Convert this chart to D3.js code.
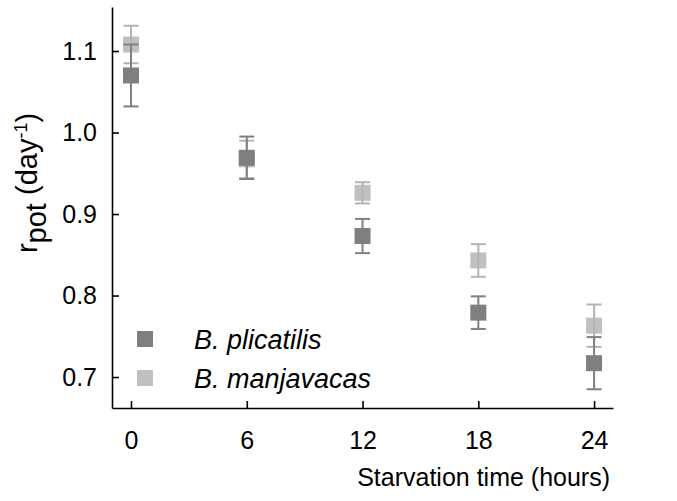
<!DOCTYPE html>
<html>
<head>
<meta charset="utf-8">
<script src="https://cdn.jsdelivr.net/npm/d3@7"></script>
<style>
  html, body { margin: 0; padding: 0; background: #fff; }
  svg { display: block; font-family: "Liberation Sans", Arial, sans-serif; }
</style>
</head>
<body>
<svg id="chart" width="677" height="501"></svg>
<script>
// ---- data ----
const hours = [0, 6, 12, 18, 24];
const xTickLabels = ["0", "6", "12", "18", "24"];
const yTicks = [0.7, 0.8, 0.9, 1.0, 1.1];
const seriesNames = ["B. plicatilis", "B. manjavacas"];
const plicatilisMean = [1.070, 0.969, 0.873, 0.779, 0.717];
const plicatilisErr  = [0.038, 0.026, 0.021, 0.020, 0.032];
const manjavacasMean = [1.108, 0.967, 0.926, 0.843, 0.763];
const manjavacasErr  = [0.023, 0.023, 0.013, 0.020, 0.026];
const seriesColors = ["#7f7f7f", "#c0c0c0"];
const barColors = ["#808080", "#b4b4b4"];

const svg = d3.select("#chart");
const x = d3.scaleLinear().domain([-0.985, 24.98]).range([112, 613]);
const y = d3.scaleLinear().domain([0.662, 1.154]).range([408, 7]);

// axes
const xAxis = d3.axisBottom(x).tickValues(hours)
  .tickFormat((d, i) => xTickLabels[i]).tickSize(-7).tickSizeOuter(0).tickPadding(23);
const yAxis = d3.axisLeft(y).tickValues(yTicks)
  .tickFormat(d3.format(".1f")).tickSize(-7).tickSizeOuter(0).tickPadding(15);

const gx = svg.append("g").attr("transform", "translate(0,408)").call(xAxis);
const gy = svg.append("g").attr("transform", "translate(112,0)").call(yAxis);
[gx, gy].forEach(g => {
  g.selectAll("path.domain").attr("stroke", "#000").attr("stroke-width", 1.6);
  g.selectAll(".tick line").attr("stroke", "#000").attr("stroke-width", 1.6);
  g.selectAll(".tick text").attr("font-size", 25).attr("fill", "#000")
    .attr("font-family", "'Liberation Sans', Arial, sans-serif");
});

// series (light drawn first, dark on top)
const series = [
  {name: seriesNames[1], mean: manjavacasMean, err: manjavacasErr, color: seriesColors[1], bar: barColors[1]},
  {name: seriesNames[0], mean: plicatilisMean, err: plicatilisErr, color: seriesColors[0], bar: barColors[0]}
];
const cap = 7.5, half = 8;
series.forEach(s => {
  const g = svg.append("g");
  hours.forEach((h, i) => {
    const cx = x(h), lo = y(s.mean[i] - s.err[i]), hi = y(s.mean[i] + s.err[i]);
    g.append("rect").attr("x", cx - half).attr("y", y(s.mean[i]) - half)
      .attr("width", 2 * half).attr("height", 2 * half).attr("fill", s.color);
    g.append("line").attr("x1", cx).attr("x2", cx).attr("y1", lo).attr("y2", hi)
      .attr("stroke", s.bar).attr("stroke-width", 2);
    [lo, hi].forEach(yy => g.append("line").attr("x1", cx - cap).attr("x2", cx + cap)
      .attr("y1", yy).attr("y2", yy).attr("stroke", s.bar).attr("stroke-width", 2));
  });
});

// legend
const legend = [{name: seriesNames[0], color: seriesColors[0], cy: 339},
                {name: seriesNames[1], color: seriesColors[1], cy: 378}];
legend.forEach(l => {
  svg.append("rect").attr("x", 137).attr("y", l.cy - 8).attr("width", 16).attr("height", 16).attr("fill", l.color);
  svg.append("text").attr("x", 194).attr("y", l.cy + 10).attr("font-size", 27)
    .attr("font-style", "italic").attr("fill", "#000").text(l.name);
});

// axis titles
svg.append("text").attr("x", 610).attr("y", 486).attr("text-anchor", "end")
  .attr("font-size", 25).attr("fill", "#000").text("Starvation time (hours)");

const yt = svg.append("text").attr("transform", "translate(37,183) rotate(-90)")
  .attr("text-anchor", "middle").attr("font-size", 29).attr("fill", "#000");
yt.append("tspan").text("r");
yt.append("tspan").attr("dy", "0.3em").text("pot");
yt.append("tspan").attr("dy", "-0.3em").text(" (day");
yt.append("tspan").attr("dy", "-0.55em").attr("font-size", 18).text("-1");
yt.append("tspan").attr("dy", "0.34em").text(")");
</script>
</body>
</html>
